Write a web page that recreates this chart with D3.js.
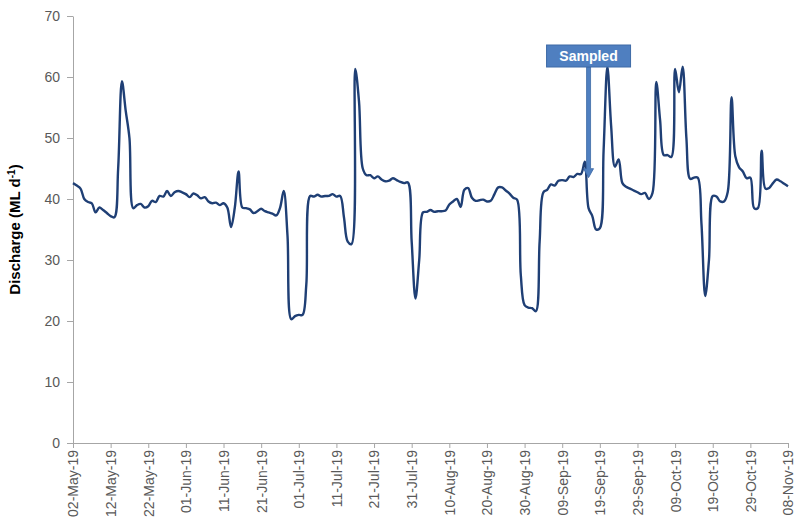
<!DOCTYPE html>
<html>
<head>
<meta charset="utf-8">
<script src="https://cdn.jsdelivr.net/npm/d3@7"></script>
<style>
  body { margin: 0; background: #fff; }
  svg { display: block; }
  .axis path, .axis line { stroke: #a6a6a6; }
  .axis text { fill: #595959; font-family: "Liberation Sans", Arial, sans-serif; font-size: 13.5px; }
</style>
</head>
<body>
<div id="chart"></div>
<script>
// daily discharge, 02-May-19 .. 08-Nov-19 (ML/d)
const startDate = "2019-05-02";
const discharge = [
  42.6, 42.2, 41.7, 40.0, 39.5, 39.3, 37.8, 38.6, 38.2, 37.7,
  37.2, 37.0, 45.0, 59.3, 54.5, 50.0, 38.5, 39.0, 39.2, 38.6,
  38.8, 39.7, 39.5, 40.5, 40.4, 41.3, 40.5, 41.1, 41.3, 41.1,
  40.8, 40.3, 40.9, 40.6, 40.1, 40.3, 39.6, 39.3, 39.4, 39.0,
  39.3, 38.6, 35.4, 38.6, 44.5, 38.6, 38.5, 38.3, 37.7, 38.0,
  38.4, 38.0, 37.8, 37.6, 37.3, 38.5, 41.3, 34.0, 20.3, 20.8,
  21.0, 21.0, 26.0, 40.5, 40.4, 40.7, 40.4, 40.5, 40.5, 40.8,
  40.4, 40.5, 37.0, 33.0, 32.6, 61.3, 56.0, 45.0, 43.9, 43.9,
  43.4, 43.7, 43.2, 42.9, 43.0, 43.4, 43.1, 42.8, 42.6, 42.7,
  33.0, 23.7, 30.0, 37.8, 37.9, 38.2, 37.9, 38.0, 38.0, 38.1,
  39.1, 39.6, 40.0, 38.7, 41.5, 41.8, 40.2, 39.7, 39.8, 39.9,
  39.6, 39.7, 40.8, 41.9, 41.9, 41.4, 40.9, 40.2, 39.9, 27.5,
  22.6, 22.2, 22.1, 21.6, 33.0, 41.1, 41.5, 42.4, 42.2, 43.0,
  43.1, 43.0, 43.7, 43.6, 44.1, 44.1, 46.1, 38.5, 37.2, 35.0,
  35.2, 48.0, 61.7, 52.0, 45.3, 46.5, 42.6, 42.0, 41.7, 41.4,
  41.1, 40.8, 41.0, 40.0, 41.0, 59.2, 53.0, 47.2, 47.2, 46.9,
  61.3, 57.5, 61.7, 50.0, 43.3, 43.5, 43.5, 36.0, 24.1, 30.0,
  40.5, 40.4, 39.6, 39.6, 41.2, 56.7, 47.0, 45.2, 44.5, 43.4,
  43.5, 38.5, 38.5, 47.9, 41.7, 41.8, 42.6, 43.2, 42.9, 42.5,
  42.1
];
const tickDates = [
  "2019-05-02", "2019-05-12", "2019-05-22", "2019-06-01", "2019-06-11",
  "2019-06-21", "2019-07-01", "2019-07-11", "2019-07-21", "2019-07-31",
  "2019-08-10", "2019-08-20", "2019-08-30", "2019-09-09", "2019-09-19",
  "2019-09-29", "2019-10-09", "2019-10-19", "2019-10-29", "2019-11-08"
];
const yTicks = [0, 10, 20, 30, 40, 50, 60, 70];
const sampledDate = "2019-09-16";
const sampledValue = 43.5;

const width = 798, height = 521;
const margin = {top: 16, right: 10, bottom: 78, left: 73};

const parse = d3.utcParse("%Y-%m-%d");
const fmt = d3.utcFormat("%d-%b-%y");
const start = parse(startDate);
const data = discharge.map((v, i) => ({date: d3.utcDay.offset(start, i), value: v}));
const ticks = tickDates.map(parse);

const svg = d3.select("#chart").append("svg")
    .attr("width", width)
    .attr("height", height);

const x = d3.scaleUtc()
    .domain([start, ticks[ticks.length - 1]])
    .range([margin.left, width - margin.right]);

const y = d3.scaleLinear()
    .domain([0, 70])
    .range([height - margin.bottom, margin.top]);

// axes
svg.append("g")
    .attr("class", "axis")
    .attr("transform", `translate(0 ${height - margin.bottom})`)
    .call(d3.axisBottom(x).tickValues(ticks).tickFormat(fmt).tickSize(5).tickSizeOuter(0))
    .selectAll("text")
    .style("font-size", "14px")
    .attr("transform", "rotate(-90)")
    .attr("text-anchor", "end")
    .attr("x", -7)
    .attr("y", 0)
    .attr("dy", "0.35em");

svg.append("g")
    .attr("class", "axis")
    .attr("transform", `translate(${margin.left} 0)`)
    .call(d3.axisLeft(y).tickValues(yTicks).tickSize(6).tickSizeOuter(0).tickPadding(7))
    .selectAll("text")
    .style("font-size", "14px");

// y label
const yLabel = svg.append("text")
    .attr("transform", `translate(20 ${(y(0) + y(70)) / 2}) rotate(-90)`)
    .attr("text-anchor", "middle")
    .style("font-family", "'Liberation Sans', Arial, sans-serif")
    .style("font-size", "15px")
    .style("font-weight", "bold")
    .attr("fill", "#000");
yLabel.append("tspan").text("Discharge (ML d");
yLabel.append("tspan").text("-1").attr("baseline-shift", "super").style("font-size", "10px");
yLabel.append("tspan").text(")");

// line
svg.append("path")
    .datum(data)
    .attr("fill", "none")
    .attr("stroke", "#1f3f75")
    .attr("stroke-width", 2.4)
    .attr("stroke-linejoin", "round")
    .attr("d", d3.line()
        .x(d => x(d.date))
        .y(d => y(d.value))
        .curve(d3.curveCatmullRom));

// "Sampled" callout
const tipX = x(parse(sampledDate));
const tipY = y(sampledValue);
const boxW = 84, boxH = 22, boxTop = 45;
const callout = svg.append("g");
callout.append("path")
    .attr("d", `M${tipX - 2},${boxTop + boxH} L${tipX - 2},${tipY - 9} L${tipX - 5},${tipY - 9} L${tipX},${tipY} L${tipX + 5},${tipY - 9} L${tipX + 2},${tipY - 9} L${tipX + 2},${boxTop + boxH} Z`)
    .attr("fill", "#4f7fc0")
    .attr("stroke", "#3e6aa6")
    .attr("stroke-width", 0.8);
callout.append("rect")
    .attr("x", tipX - boxW / 2)
    .attr("y", boxTop)
    .attr("width", boxW)
    .attr("height", boxH)
    .attr("fill", "#4f7fc0")
    .attr("stroke", "#3e6aa6")
    .attr("stroke-width", 1);
callout.append("text")
    .attr("x", tipX)
    .attr("y", boxTop + boxH / 2)
    .attr("dy", "0.36em")
    .attr("text-anchor", "middle")
    .attr("fill", "#fff")
    .style("font-family", "'Liberation Sans', Arial, sans-serif")
    .style("font-size", "14px")
    .style("font-weight", "bold")
    .text("Sampled");
</script>
</body>
</html>
